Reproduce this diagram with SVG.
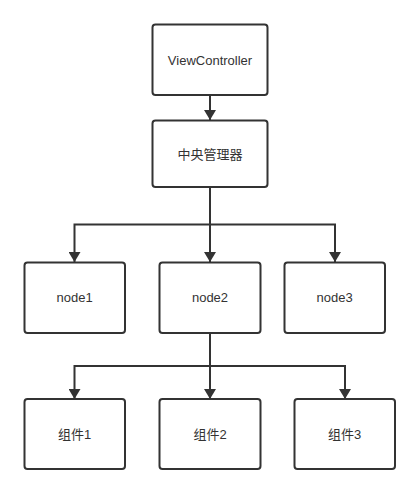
<svg xmlns="http://www.w3.org/2000/svg" width="420" height="494" viewBox="0 0 420 494">
<defs>
<style>
.box{fill:#fff;stroke:#333;stroke-width:2}
.lbl{font-family:"Liberation Sans","Noto Sans CJK SC",sans-serif;font-size:13px;fill:#333;text-anchor:middle}
.ln{fill:none;stroke:#333;stroke-width:2}
</style>
<marker id="ah" viewBox="0 0 10 12" refX="10" refY="6" markerWidth="10" markerHeight="12" markerUnits="userSpaceOnUse" orient="auto">
<path d="M0,0 L10,6 L0,12 Z" fill="#333"/>
</marker>
</defs>
<rect width="420" height="494" fill="#fff"/>
<g id="connectors">
<path class="ln" d="M210,95 V120" marker-end="url(#ah)"/>
<path class="ln" d="M210,187 V262" marker-end="url(#ah)"/>
<path class="ln" d="M210,224.5 H74.5 V262" marker-end="url(#ah)"/>
<path class="ln" d="M210,224.5 H335 V262" marker-end="url(#ah)"/>
<path class="ln" d="M210,333 V399" marker-end="url(#ah)"/>
<path class="ln" d="M210,366 H74.5 V399" marker-end="url(#ah)"/>
<path class="ln" d="M210,366 H345 V399" marker-end="url(#ah)"/>
</g>
<g id="viewcontroller"><rect class="box" x="152.5" y="24.5" width="115" height="70.5" rx="3"/><text class="lbl" x="210" y="64.5">ViewController</text></g>
<g id="manager"><rect class="box" x="152.5" y="120.5" width="115" height="66.5" rx="3"/><text class="lbl" x="210" y="158.5">中央管理器</text></g>
<g id="node1"><rect class="box" x="24.5" y="262.5" width="100.5" height="70.5" rx="3"/><text class="lbl" x="74.7" y="302">node1</text></g>
<g id="node2"><rect class="box" x="159.5" y="262.5" width="101" height="70.5" rx="3"/><text class="lbl" x="210" y="302">node2</text></g>
<g id="node3"><rect class="box" x="284.5" y="262.5" width="100.5" height="70.5" rx="3"/><text class="lbl" x="334.7" y="302">node3</text></g>
<g id="comp1"><rect class="box" x="24.5" y="399" width="100.5" height="70" rx="3"/><text class="lbl" x="74.7" y="438.5">组件1</text></g>
<g id="comp2"><rect class="box" x="159.5" y="399" width="101" height="70" rx="3"/><text class="lbl" x="210" y="438.5">组件2</text></g>
<g id="comp3"><rect class="box" x="294.5" y="399" width="100.5" height="70" rx="3"/><text class="lbl" x="344.7" y="438.5">组件3</text></g>
</svg>
